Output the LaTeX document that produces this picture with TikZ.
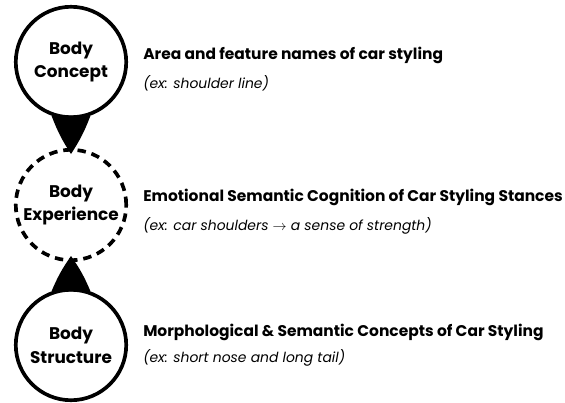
\documentclass[tikz,border=0pt]{standalone}
\usepackage{fontspec}
\setmainfont{Poppins}
\usepackage{tikz}
\usetikzlibrary{arrows.meta,positioning,calc}
\definecolor{bodyInk}{HTML}{000000}
\tikzset{
  bodycircle/.style={circle, draw=bodyInk, fill=white, line width=2.6pt, minimum size=2.76cm, inner sep=0pt, align=center, font=\fontsize{12}{17}\selectfont\bfseries},
  bodydashed/.style={bodycircle, dash pattern=on 6pt off 4.2pt},
  wedge/.style={fill=bodyInk, draw=none},
  headline/.style={anchor=west, inner sep=0pt, font=\fontsize{11}{13}\selectfont\bfseries},
  exline/.style={anchor=west, inner sep=0pt, font=\fontsize{9.9}{12}\selectfont\itshape}
}

\begin{document}
\begin{tikzpicture}[x=0.025cm,y=-0.025cm]
  \useasboundingbox (0,0) rectangle (565,402);

  \node[bodycircle] (concept) at (71,62) {Body\\Concept};
  \node[bodycircle] (structure) at (71,345) {Body\\Structure};

  % wedges between the circles
  \fill[wedge] (concept.-110) to[bend right=6] ($(71,205)+(0,-51)$) to[bend right=6] (concept.-70) -- cycle;
  \fill[wedge] (structure.110) to[bend left=6] ($(71,205)+(0,51)$) to[bend left=6] (structure.70) -- cycle;

  \node[bodydashed, fill=none] (experience) at (71,205) {Body\\Experience};

  \node[headline] (conceptTitle) at (143,55) {Area and feature names of car styling};
  \node[exline] (conceptEx) at (143,83) {(ex: shoulder line)};

  \node[headline] (experienceTitle) at (143,197) {Emotional Semantic Cognition of Car Styling Stances};
  \node[exline] (experienceEx) at (143,226) {(ex: car shoulders $\rightarrow$ a sense of strength)};

  \node[headline] (structureTitle) at (143,332) {Morphological \& Semantic Concepts of Car Styling};
  \node[exline] (structureEx) at (143,358) {(ex: short nose and long tail)};
\end{tikzpicture}
\end{document}
